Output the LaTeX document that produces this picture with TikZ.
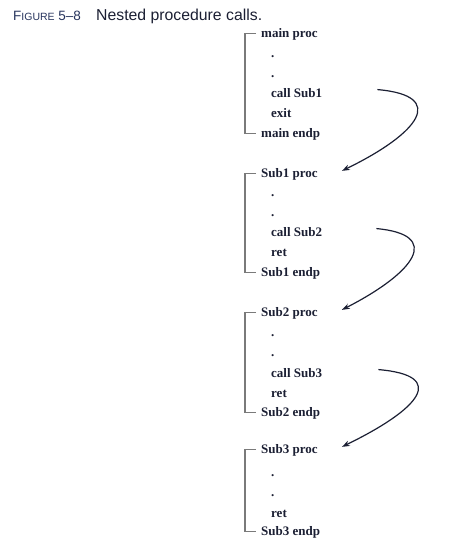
\documentclass[tikz,border=0pt]{standalone}
\usepackage{fontspec}
\setmainfont{Liberation Serif}
\newfontfamily\titlefont[Ligatures=TeX]{Liberation Sans}
\usetikzlibrary{arrows.meta}
\definecolor{inkblue}{HTML}{1B1F33}
\definecolor{figblue}{HTML}{26335C}
\definecolor{brkgray}{HTML}{7A7A7A}
\begin{document}
\begin{tikzpicture}[
                            x=1pt, y=-1pt,
                            >={Stealth[length=8pt,width=5.5pt]},
                            line/.style={anchor=base west, inner sep=0pt, font=\fontsize{13}{15}\selectfont\bfseries, text=inkblue},
                            brk/.style={draw=brkgray, line width=1.1pt},
                            callarrow/.style={->, line width=1.2pt, inkblue}
                        ]
                        \useasboundingbox (0,0) rectangle (467,547);
                        % Caption
                        \node [anchor=base west, inner sep=0pt, text=figblue] (fig) at (13,20) {\titlefont\fontsize{13.5}{15}\selectfont F\fontsize{10.5}{12}\selectfont IGURE\fontsize{13.5}{15}\selectfont\ 5--8};
                        \node [anchor=base west, inner sep=0pt, text=inkblue] (cap) at (96,20.5) {\titlefont\fontsize{15.8}{19}\selectfont Nested procedure calls.};

                        % main
                        \node [line] (mainproc) at (261,37) {main proc};
                        \node [line] (dotA1) at (271,57) {.};
                        \node [line] (dotA2) at (271,77) {.};
                        \node [line] (callA) at (271,97) {call Sub1};
                        \node [line] (exitA) at (271,117) {exit};
                        \node [line] (mainendp) at (261,137) {main endp};

                        % Sub1
                        \node [line] (subAproc) at (261,177) {Sub1 proc};
                        \node [line] (dotB1) at (271,196) {.};
                        \node [line] (dotB2) at (271,216) {.};
                        \node [line] (callB) at (271,236) {call Sub2};
                        \node [line] (retB) at (271,256) {ret};
                        \node [line] (subAendp) at (261,276) {Sub1 endp};

                        % Sub2
                        \node [line] (subBproc) at (261,316) {Sub2 proc};
                        \node [line] (dotC1) at (271,336) {.};
                        \node [line] (dotC2) at (271,356) {.};
                        \node [line] (callC) at (271,377) {call Sub3};
                        \node [line] (retC) at (271,397) {ret};
                        \node [line] (subBendp) at (261,416) {Sub2 endp};

                        % Sub3
                        \node [line] (subCproc) at (261,453) {Sub3 proc};
                        \node [line] (dotD1) at (271,476) {.};
                        \node [line] (dotD2) at (271,496) {.};
                        \node [line] (retD) at (271,517) {ret};
                        \node [line] (subCendp) at (261,535) {Sub3 endp};

                        % Brackets
                        \draw [brk] ([xshift=-5pt]mainproc.west) -- ++(-11,0) |- ([xshift=-5pt]mainendp.west);
                        \draw [brk] ([xshift=-5pt]subAproc.west) -- ++(-11,0) |- ([xshift=-5pt]subAendp.west);
                        \draw [brk] ([xshift=-5pt]subBproc.west) -- ++(-11,0) |- ([xshift=-5pt]subBendp.west);
                        \draw [brk] ([xshift=-5pt]subCproc.west) -- ++(-11,0) |- ([xshift=-5pt]subCendp.west);

                        % Calls
                        \draw [callarrow] ([xshift=55pt,yshift=3pt]callA.east) .. controls +(70,6) and +(78,-38) .. ([xshift=24pt,yshift=3pt]subAproc.east);
                        \draw [callarrow] ([xshift=54pt,yshift=3pt]callB.east) .. controls +(66,6) and +(74,-38) .. ([xshift=24pt,yshift=3pt]subBproc.east);
                        \draw [callarrow] ([xshift=56pt,yshift=3pt]callC.east) .. controls +(70,6) and +(78,-38) .. ([xshift=24pt,yshift=3pt]subCproc.east);
                    \end{tikzpicture}
\end{document}
